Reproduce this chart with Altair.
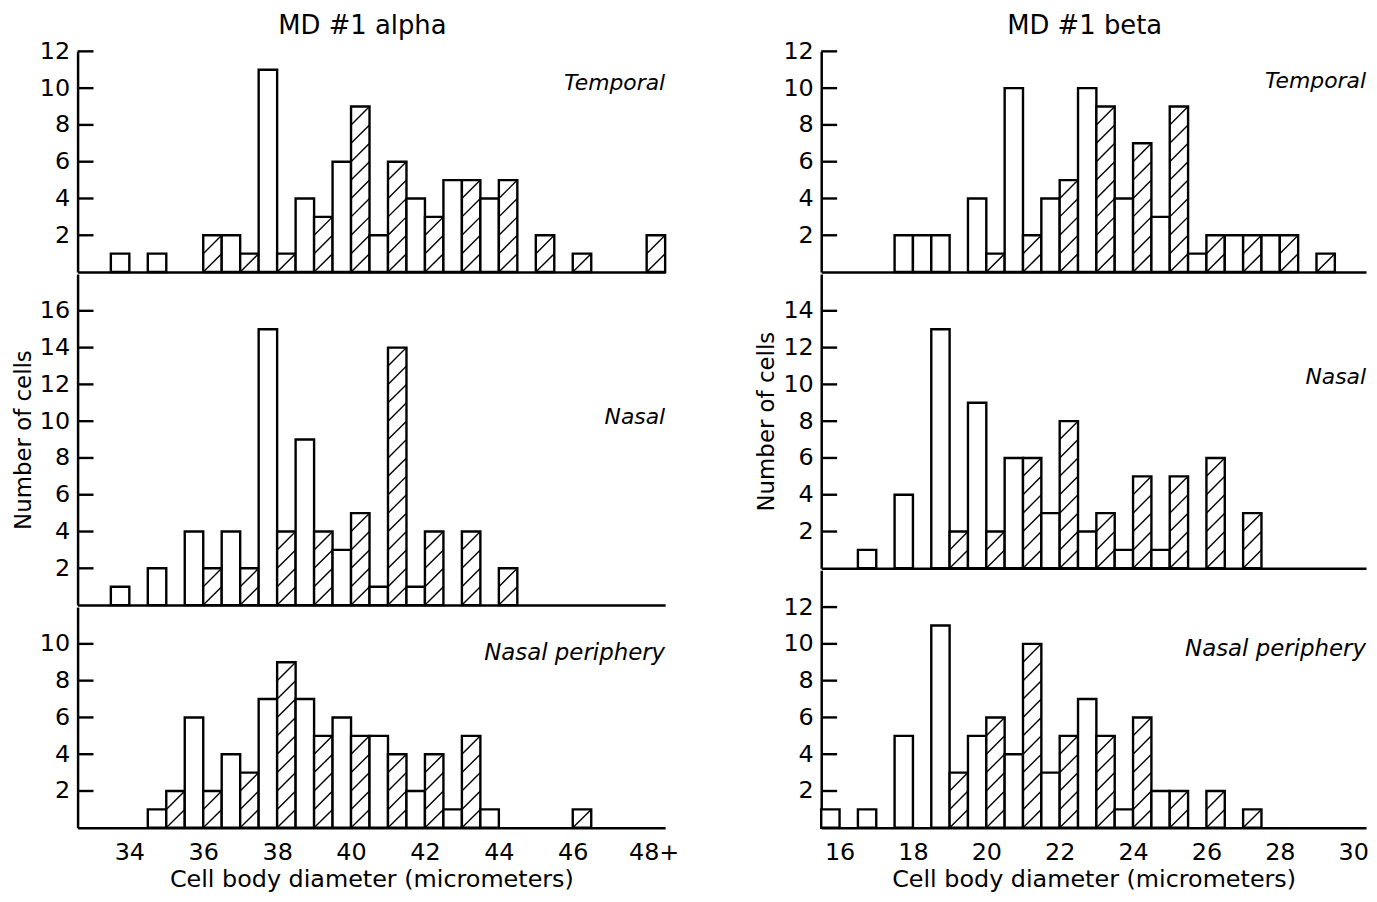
import altair as alt
import pandas as pd

# ---------------- data ----------------
alpha_bins = list(range(34, 49))
alpha_temporal_open = [1, 1, 0, 2, 11, 4, 6, 2, 4, 5, 4, 0, 0, 0, 0]
alpha_temporal_hatched = [0, 0, 2, 1, 1, 3, 9, 6, 3, 5, 5, 2, 1, 0, 2]
alpha_nasal_open = [1, 2, 4, 4, 15, 9, 3, 1, 1, 0, 0, 0, 0, 0, 0]
alpha_nasal_hatched = [0, 0, 2, 2, 4, 4, 5, 14, 4, 4, 2, 0, 0, 0, 0]
alpha_periph_open = [0, 1, 6, 4, 7, 7, 6, 5, 2, 1, 1, 0, 0, 0, 0]
alpha_periph_hatched = [0, 2, 2, 3, 9, 5, 5, 4, 4, 5, 0, 0, 1, 0, 0]

beta_bins = list(range(16, 31))
beta_temporal_open = [0, 0, 2, 2, 4, 10, 4, 10, 4, 3, 1, 2, 2, 0, 0]
beta_temporal_hatched = [0, 0, 2, 0, 1, 2, 5, 9, 7, 9, 2, 2, 2, 1, 0]
beta_temporal_unhatched = [18]  # drawn without hatching in the original
beta_nasal_open = [0, 1, 4, 13, 9, 6, 3, 2, 1, 1, 0, 0, 0, 0, 0]
beta_nasal_hatched = [0, 0, 0, 2, 2, 6, 8, 3, 5, 5, 6, 3, 0, 0, 0]
beta_periph_open = [1, 1, 5, 11, 5, 4, 3, 7, 1, 2, 0, 0, 0, 0, 0]
beta_periph_hatched = [0, 0, 0, 3, 6, 10, 5, 5, 6, 2, 2, 1, 0, 0, 0]

alpha_xticks = [34, 36, 38, 40, 42, 44, 46, 48]
beta_xticks = [16, 18, 20, 22, 24, 26, 28, 30]

FONT = "DejaVu Sans"
UNIT_PX = 18.5


def bar_frame(bins, open_counts, hatched_counts):
    rows = []
    for b, o, h in zip(bins, open_counts, hatched_counts):
        if o > 0:
            rows.append({"x0": b - 0.5, "x1": b, "n": o})
        if h > 0:
            rows.append({"x0": b, "x1": b + 0.5, "n": h})
    return pd.DataFrame(rows)


def hatch_frame(bins, hatched_counts, skip=()):
    rows = []
    for b, h in zip(bins, hatched_counts):
        if h <= 0 or b in skip:
            continue
        for k in range(h):
            rows.append({"xa": b, "xb": b + 0.5, "ya": k, "yb": k + 1})
    return pd.DataFrame(rows)


def panel(bins, open_counts, hatched_counts, ymax, yticks, label, label_y,
          xdomain, xticks, width, bottom=False, ytitle=None, title=None,
          skip=(), label_size=22):
    xs = alt.Scale(domain=xdomain, nice=False, zero=False)
    ys = alt.Scale(domain=[0, ymax], nice=False, zero=True)
    height = ymax * UNIT_PX

    xaxis = alt.Axis(
        values=xticks, grid=False, ticks=False, labels=bottom,
        domain=True, domainColor="black", domainWidth=2.5,
        labelFont=FONT, labelFontSize=24, labelColor="black", labelPadding=13,
        labelExpr="datum.value == 48 ? '48+' : datum.label",
        labelOffset={"condition": {"test": "datum.value == 48", "value": 7}, "value": 0},
        title="Cell body diameter (micrometers)" if bottom else None,
        titleFont=FONT, titleFontSize=24, titleFontWeight="normal",
        titleColor="black", titlePadding=3,
    )
    yaxis = alt.Axis(
        values=yticks, grid=False, ticks=False,
        domain=True, domainColor="black", domainWidth=2.5,
        labelFont=FONT, labelFontSize=24, labelColor="black", labelPadding=8,
        title=ytitle, titleFont=FONT, titleFontSize=23,
        titleFontWeight="normal", titleColor="black", titlePadding=4,
    )

    bars_df = bar_frame(bins, open_counts, hatched_counts)
    bars = alt.Chart(bars_df).mark_bar(
        fill="white", stroke="black", strokeWidth=2.4, strokeJoin="miter"
    ).encode(
        x=alt.X("x0:Q", scale=xs, axis=xaxis),
        x2="x1:Q",
        y=alt.Y("n:Q", scale=ys, axis=yaxis),
        y2=alt.datum(0),
    )

    hdf = hatch_frame(bins, hatched_counts, skip)
    hatch = alt.Chart(hdf).mark_rule(color="black", strokeWidth=1.4).encode(
        x=alt.X("xa:Q", scale=xs),
        x2="xb:Q",
        y=alt.Y("ya:Q", scale=ys),
        y2="yb:Q",
    )

    tick_df = pd.DataFrame({"v": yticks})
    ticks = alt.Chart(tick_df).mark_rule(color="black", strokeWidth=2.4).encode(
        y=alt.Y("v:Q", scale=ys),
        x=alt.value(0),
        x2=alt.value(16),
    )

    txt = alt.Chart(pd.DataFrame({"t": [label]})).mark_text(
        align="right", baseline="middle", font=FONT, fontSize=label_size,
        fontStyle="italic", color="black",
    ).encode(
        x=alt.datum(xdomain[1], scale=xs),
        y=alt.datum(label_y, scale=ys),
        text="t:N",
    )

    props = {"width": width, "height": height}
    if title is not None:
        props["title"] = alt.TitleParams(
            title, font=FONT, fontSize=26, fontWeight="normal", color="black",
            anchor="middle", frame="group", offset=0, dx=-9,
        )
    return alt.layer(bars, hatch, ticks, txt).properties(**props)


A_DOM = [32.6, 48.5]
B_DOM = [15.5, 30.35]
A_W = 591
B_W = 548

alpha_col = alt.vconcat(
    panel(alpha_bins, alpha_temporal_open, alpha_temporal_hatched, 12,
          [2, 4, 6, 8, 10, 12], "Temporal", 10.3, A_DOM, alpha_xticks, A_W,
          title="MD #1  alpha"),
    panel(alpha_bins, alpha_nasal_open, alpha_nasal_hatched, 18,
          [2, 4, 6, 8, 10, 12, 14, 16], "Nasal", 10.2, A_DOM, alpha_xticks, A_W,
          ytitle="Number of cells"),
    panel(alpha_bins, alpha_periph_open, alpha_periph_hatched, 12,
          [2, 4, 6, 8, 10], "Nasal  periphery", 9.5, A_DOM, alpha_xticks, A_W,
          bottom=True, label_size=23),
    spacing=0,
)

beta_col = alt.vconcat(
    panel(beta_bins, beta_temporal_open, beta_temporal_hatched, 12,
          [2, 4, 6, 8, 10, 12], "Temporal", 10.4, B_DOM, beta_xticks, B_W,
          title="MD #1  beta", skip=beta_temporal_unhatched),
    panel(beta_bins, beta_nasal_open, beta_nasal_hatched, 16,
          [2, 4, 6, 8, 10, 12, 14], "Nasal", 10.4, B_DOM, beta_xticks, B_W,
          ytitle="Number of cells"),
    panel(beta_bins, beta_periph_open, beta_periph_hatched, 14,
          [2, 4, 6, 8, 10, 12], "Nasal  periphery", 9.7, B_DOM, beta_xticks, B_W,
          bottom=True, label_size=23),
    spacing=0,
)

chart = alt.hconcat(alpha_col, beta_col, spacing=77).properties(
    background="white",
    padding={"left": 4, "top": 3, "right": 0, "bottom": 0},
).configure_view(
    stroke=None, strokeWidth=0
).configure_axis(
    grid=False
)

chart.save("out.html", embed_options={"renderer": "svg", "actions": False})
